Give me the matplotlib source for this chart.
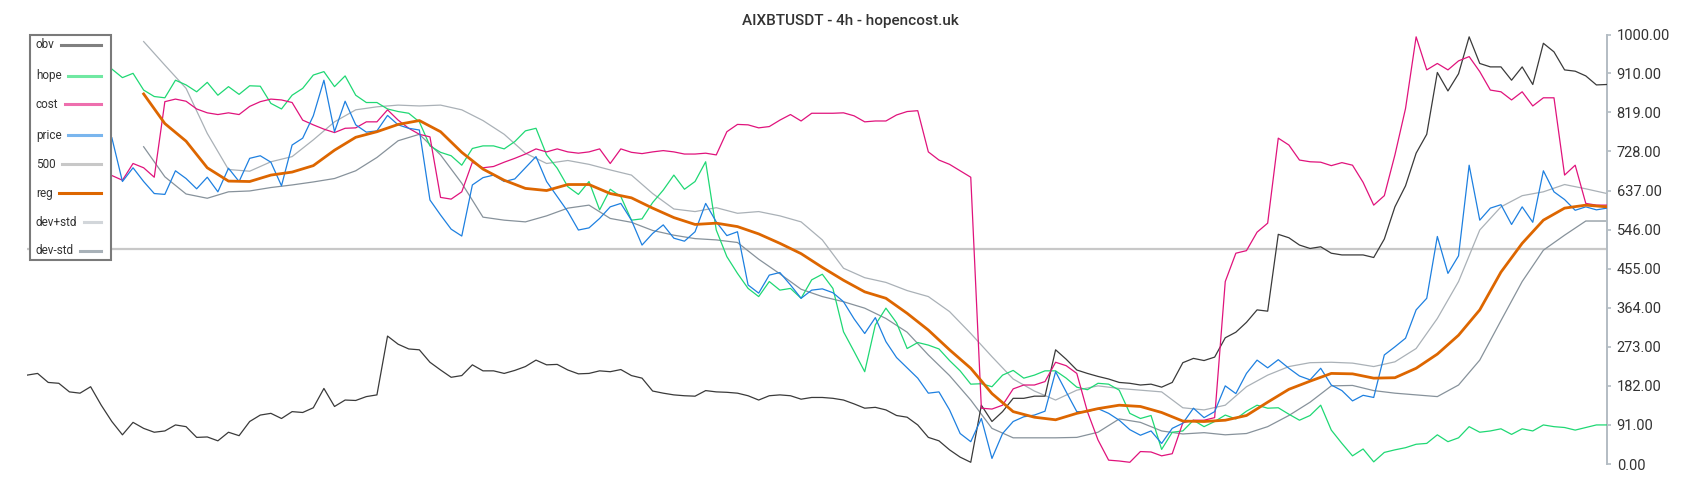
import numpy as np
import matplotlib
matplotlib.use("Agg")
import matplotlib.pyplot as plt
from matplotlib.lines import Line2D
from matplotlib.patches import Rectangle

plt.rcParams['font.family'] = ['Roboto', 'DejaVu Sans']

# bar index grid (every second 4h candle) and the coarser grid for smooth lines
x_all = np.arange(150)
x_vis = np.arange(8, 150)          # hope / cost / price come out from under the legend
x_reg = np.arange(11, 150, 2)

obv = [207, 211, 190, 188, 168, 165, 180, 137, 99, 68, 97, 83, 74, 77, 91, 87, 62, 63, 54, 74, 66, 99, 114, 118, 106,
       122, 120, 131, 176, 134, 149, 148, 157, 161, 298, 279, 268, 266, 237, 219, 202, 206, 231, 217, 217, 211, 218, 227, 242, 231,
       232, 219, 210, 211, 217, 215, 220, 206, 200, 170, 165, 161, 159, 158, 171, 168, 167, 165, 159, 149, 159, 161, 159, 151, 155,
       155, 153, 149, 140, 130, 132, 126, 113, 109, 91, 62, 54, 33, 16, 4, 137, 99, 122, 153, 153, 158, 158, 266, 244, 219,
       211, 204, 198, 190, 188, 184, 186, 179, 190, 236, 246, 241, 249, 294, 307, 330, 359, 356, 535, 527, 510, 502, 506, 491, 487,
       487, 487, 481, 524, 599, 648, 724, 768, 912, 869, 909, 995, 933, 925, 925, 894, 925, 884, 980, 960, 918, 915, 904, 883, 884]

hope = [920, 900, 910, 871, 856, 853, 894, 883, 867, 889, 859, 879, 861, 881, 880, 840, 827,
        859, 875, 906, 914, 879, 904, 859, 842, 842, 827, 821, 817, 797, 741, 726, 718, 696, 735, 741, 741, 734, 751, 776, 782, 720,
        689, 646, 628, 658, 592, 640, 623, 568, 571, 609, 638, 673, 640, 658, 704, 545, 483, 444, 409, 390, 425, 405, 409, 386, 429,
        442, 409, 308, 262, 215, 324, 363, 329, 269, 283, 277, 268, 241, 217, 186, 187, 180, 207, 218, 200, 207, 217, 217, 200, 179,
        173, 188, 186, 172, 118, 106, 113, 34, 74, 77, 102, 87, 99, 114, 105, 123, 137, 130, 131, 116, 102, 113, 137, 79, 48,
        19, 35, 5, 27, 33, 38, 46, 48, 68, 52, 61, 87, 74, 77, 82, 69, 82, 77, 91, 87, 85, 79, 85, 91, 91]

cost = [672, 661, 700, 690, 668, 844, 850, 845, 827, 818, 814, 818, 814, 833, 844, 850, 848,
        842, 801, 790, 780, 772, 782, 783, 797, 797, 825, 801, 782, 768, 762, 621, 617, 634, 703, 690, 693, 703, 712, 722, 734, 727,
        734, 727, 724, 727, 734, 700, 734, 726, 723, 727, 730, 727, 722, 722, 724, 720, 774, 791, 790, 783, 786, 801, 814, 799, 817,
        817, 817, 818, 811, 797, 799, 799, 813, 821, 823, 727, 708, 698, 683, 668, 130, 128, 137, 175, 184, 184, 192, 237, 229, 211,
        122, 56, 9, 7, 4, 29, 28, 19, 24, 96, 102, 102, 108, 425, 491, 497, 540, 561, 759, 743, 708, 704, 703, 695, 702,
        696, 656, 603, 625, 720, 828, 995, 918, 933, 918, 939, 949, 914, 871, 867, 848, 867, 834, 853, 853, 673, 696, 607, 603, 603]

price = [760, 658, 690, 658, 630, 628, 683, 665, 641, 668, 634, 689, 658, 712, 718, 703, 648,
         743, 759, 811, 894, 774, 845, 790, 773, 776, 812, 790, 782, 778, 615, 580, 547, 531, 650, 667, 673, 658, 664, 690, 716, 658,
         623, 588, 545, 550, 572, 599, 607, 568, 510, 537, 557, 526, 519, 541, 607, 564, 532, 541, 417, 398, 440, 446, 417, 386, 405,
         408, 399, 378, 338, 304, 341, 285, 248, 224, 200, 165, 168, 126, 71, 52, 106, 13, 71, 99, 110, 114, 123, 215, 168, 122,
         122, 129, 118, 102, 80, 67, 77, 48, 83, 95, 130, 108, 122, 182, 164, 211, 242, 224, 243, 223, 205, 196, 223, 184, 171,
         147, 160, 155, 254, 273, 293, 359, 386, 530, 444, 485, 696, 568, 596, 604, 558, 599, 563, 683, 634, 616, 591, 599, 592, 596]

reg = [862, 793, 752, 690, 659, 658, 673,
       680, 695, 731, 761, 774, 791, 800, 774, 726, 687, 661, 642, 637,
       651, 651, 630, 620, 596, 574, 558, 561, 553, 536, 514, 490,
       458, 428, 401, 386, 351, 312, 266, 223, 164, 122, 109, 103, 118,
       129, 137, 134, 120, 100, 99, 102, 113, 144, 174, 193, 211,
       210, 200, 201, 223, 256, 300, 359, 447, 514, 568, 596, 603, 599]

dev_plus = [984, 929, 875, 770, 686, 682, 704,
            716, 755, 797, 825, 832, 836, 834, 836, 825, 800, 768, 724, 700,
            707, 698, 685, 673, 630, 594, 588, 597, 584, 588, 578, 564,
            522, 456, 434, 423, 404, 390, 355, 304, 250, 198, 170, 149, 172,
            182, 176, 172, 168, 131, 126, 137, 180, 207, 227, 236, 237,
            235, 227, 238, 269, 339, 425, 545, 599, 625, 634, 651, 641, 630]

dev_minus = [739, 669, 629, 619, 634, 636, 644,
             650, 657, 665, 683, 714, 753, 768, 720, 654, 575, 568, 564, 578,
             596, 603, 572, 563, 544, 533, 525, 522, 516, 477, 443, 407,
             390, 378, 363, 339, 307, 254, 206, 149, 83, 61, 61, 61, 62,
             74, 105, 97, 77, 70, 73, 68, 71, 87, 113, 144, 182,
             183, 171, 165, 161, 157, 184, 242, 334, 425, 498, 533, 566, 566]

level = 500
yticks = [0, 91, 182, 273, 364, 455, 546, 637, 728, 819, 910, 1000]
title = 'AIXBTUSDT - 4h - hopencost.uk'

W, H = 1700, 500
fig = plt.figure(figsize=(17, 5), dpi=100)
ax = fig.add_axes([27 / W, 0.0634, 1580 / W, 0.8758])

ax.axhline(level, color='#c8c8c8', lw=1.6, zorder=1)
ax.plot(x_reg, dev_plus, color='#aab1b7', lw=0.9, zorder=2)
ax.plot(x_reg, dev_minus, color='#87929b', lw=0.9, zorder=2)
ax.plot(x_all, obv, color='#3a3a3a', lw=0.9, zorder=3)
ax.plot(x_vis, hope, color='#1fd874', lw=0.9, zorder=3)
ax.plot(x_vis, cost, color='#e0137c', lw=0.9, zorder=3)
ax.plot(x_vis, price, color='#1e80e0', lw=0.9, zorder=3)
ax.plot(x_reg, reg, color='#dd6600', lw=2.0, zorder=4)

ax.set_xlim(0, 149)
ax.set_ylim(-10, 1010)
ax.set_xticks([])
ax.yaxis.tick_right()
ax.set_yticks(yticks)
ax.set_yticklabels([f'{v:.2f}' for v in yticks])
ax.tick_params(axis='y', colors='#b3bcc3', labelcolor='#333333', length=3, width=1.2, pad=4, labelsize=10.5)
for s in ['left', 'top', 'bottom']:
    ax.spines[s].set_visible(False)
ax.spines['right'].set_color('#b3bcc3')
ax.spines['right'].set_linewidth(1.4)
ax.spines['right'].set_bounds(0, 1000)

fig.text(0.5, 1 - 21 / H, title, ha='center', va='center', fontsize=11,
         fontweight=500, color='#333333')

# chart.js style legend box: label left, swatch filling to the right edge
fx = lambda px: px / W
fy = lambda py: 1 - py / H
fig.add_artist(Rectangle((fx(30), fy(260)), fx(81), 225 / H, transform=fig.transFigure,
                         facecolor='white', edgecolor='#7a7a7a', lw=1.5, zorder=10))
entries = [('obv', '#808080', 2.2), ('hope', '#70e8a2', 2.2), ('cost', '#ee6fae', 2.2),
           ('price', '#7ab6ee', 2.2), ('500', '#c8c8c8', 2.2), ('reg', '#dd6600', 2.2),
           ('dev+std', '#d2d6da', 2.2), ('dev-std', '#a8b1b8', 2.2)]
ypos = [45, 76, 104, 135, 164, 193, 222, 251]
renderer = fig.canvas.get_renderer()
for (name, col, lw), yy in zip(entries, ypos):
    t = fig.text(fx(36), fy(yy), name, ha='left', va='center', fontsize=8.5,
                 color='#333333', zorder=11)
    bb = t.get_window_extent(renderer)
    fig.add_artist(Line2D([fx(bb.x1 + 6), fx(101)], [fy(yy), fy(yy)], transform=fig.transFigure,
                          color=col, lw=lw, zorder=11))

fig.savefig('out.png', dpi=100)
